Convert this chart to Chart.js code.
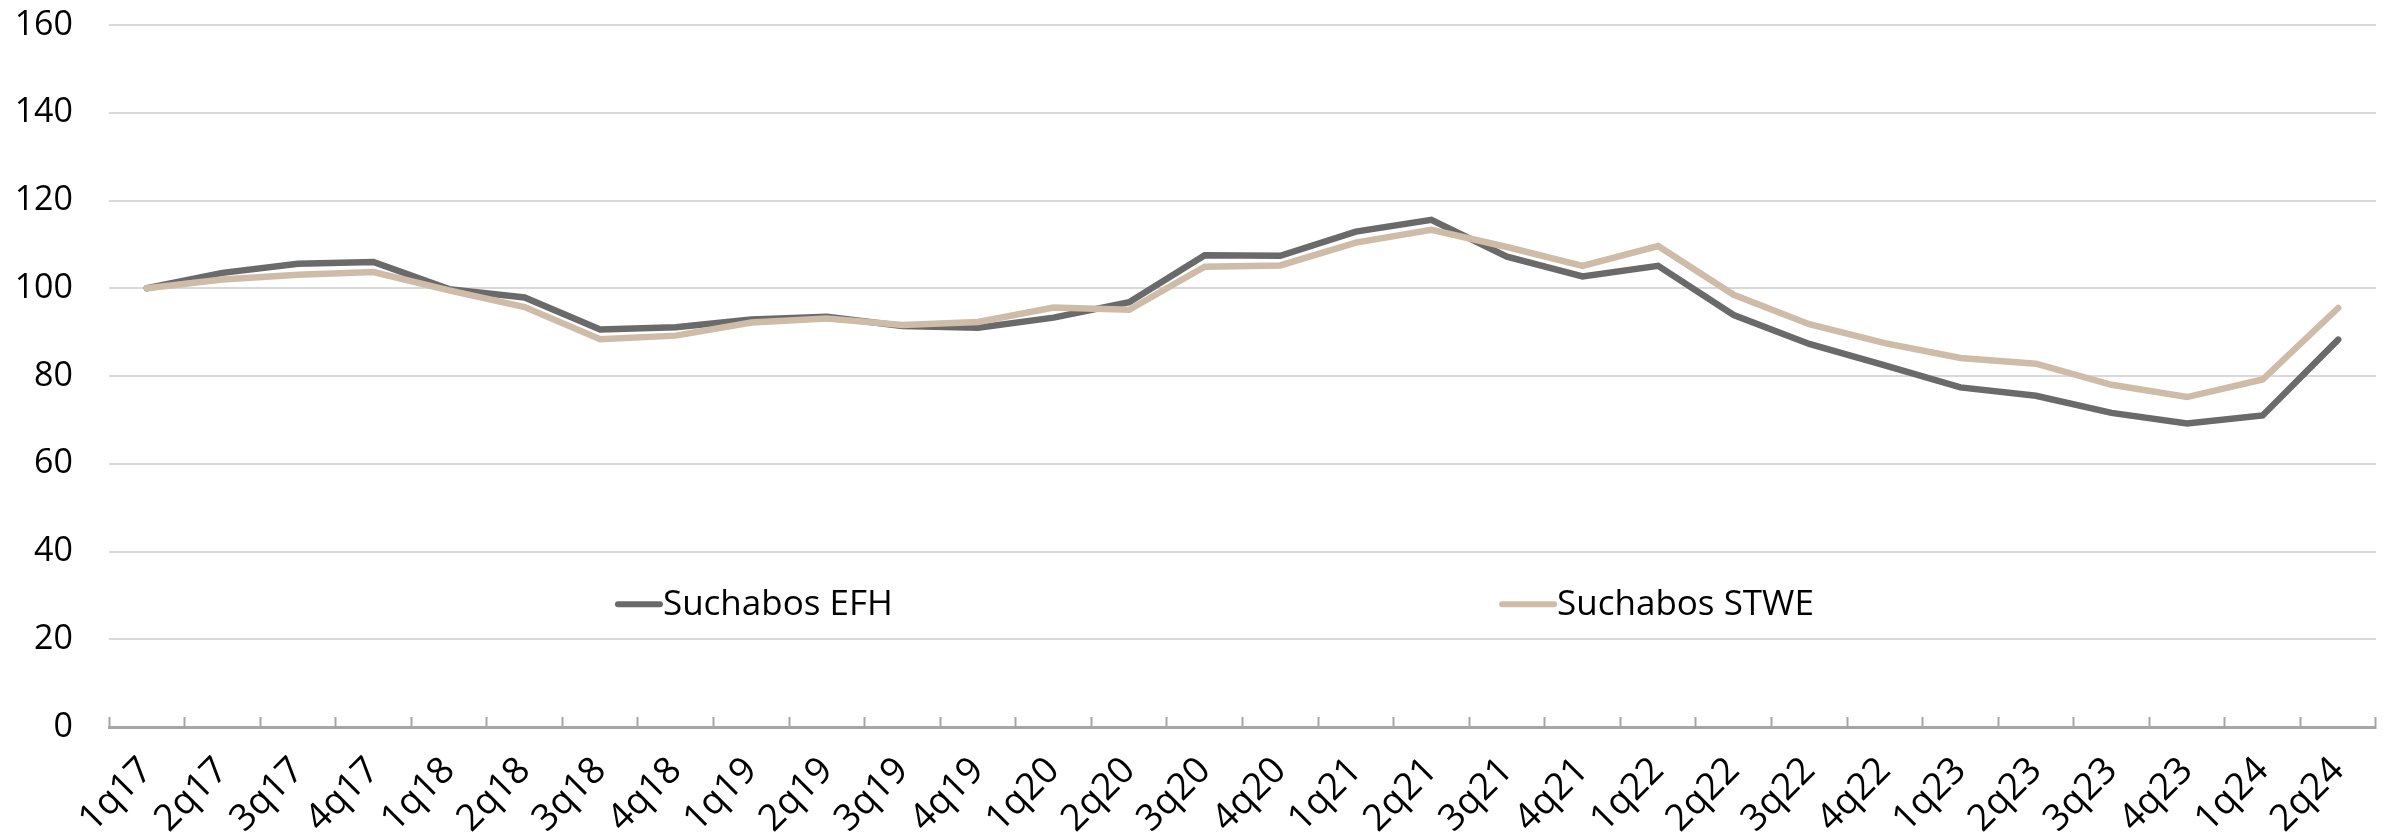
<!DOCTYPE html>
<html>
<head>
<meta charset="utf-8">
<script src="https://cdn.jsdelivr.net/npm/chart.js@4"></script>
<style>
    html, body { margin: 0; padding: 0; background: #fff; }
    #wrap { width: 2402px; height: 835px; position: relative; }
</style>
</head>
<body>
<div id="wrap"><canvas id="suchChart"></canvas></div>
<script>
const quarters = [
    '1q17', '2q17', '3q17', '4q17',
    '1q18', '2q18', '3q18', '4q18',
    '1q19', '2q19', '3q19', '4q19',
    '1q20', '2q20', '3q20', '4q20',
    '1q21', '2q21', '3q21', '4q21',
    '1q22', '2q22', '3q22', '4q22',
    '1q23', '2q23', '3q23', '4q23',
    '1q24', '2q24'
];

const suchabosEFH = [
    100, 103.5, 105.6, 106,
    99.8, 97.9, 90.6, 91.1,
    92.9, 93.5, 91.4, 91.0,
    93.3, 96.8, 107.5, 107.4,
    112.9, 115.6, 107.2, 102.7,
    105.1, 93.9, 87.3, 82.4,
    77.4, 75.5, 71.6, 69.2,
    71.0, 88.3
];

const suchabosSTWE = [
    100, 102, 103.1, 103.7,
    99.5, 95.7, 88.4, 89.2,
    92.2, 93.1, 91.6, 92.3,
    95.6, 95.1, 104.9, 105.2,
    110.4, 113.3, 109.4, 105.1,
    109.6, 98.5, 91.8, 87.5,
    84.1, 82.8, 78.0, 75.2,
    79.2, 95.5
];

const yTicks = { min: 0, max: 160, step: 20 };

const FONT = '"Open Sans", "Noto Sans", sans-serif';
const COL_EFH = '#6a6a6a';
const COL_STWE = '#cebca9';

// legend sits inside the plot, like the original
const insideLegend = {
    id: 'insideLegend',
    afterDraw(chart) {
        const { ctx, chartArea } = chart;
        const w = chartArea.right - chartArea.left;
        const y = chartArea.top + (chartArea.bottom - chartArea.top) * 0.825;
        const items = [
            { label: 'Suchabos EFH', color: COL_EFH, at: 0.2245, len: 42 },
            { label: 'Suchabos STWE', color: COL_STWE, at: 0.6145, len: 52 }
        ];
        ctx.save();
        ctx.font = '35px ' + FONT;
        ctx.textBaseline = 'middle';
        ctx.fillStyle = '#000';
        items.forEach(it => {
            const x0 = chartArea.left + w * it.at;
            ctx.strokeStyle = it.color;
            ctx.lineWidth = 6;
            ctx.lineCap = 'round';
            ctx.beginPath();
            ctx.moveTo(x0, y);
            ctx.lineTo(x0 + it.len, y);
            ctx.stroke();
            ctx.fillText(it.label, x0 + it.len + 3, y + 1);
        });
        ctx.restore();
    }
};

const ctx = document.getElementById('suchChart').getContext('2d');
new Chart(ctx, {
    type: 'line',
    data: {
        labels: quarters,
        datasets: [
            {
                label: 'Suchabos EFH',
                data: suchabosEFH,
                borderColor: COL_EFH,
                backgroundColor: COL_EFH,
                borderWidth: 6.5,
                borderCapStyle: 'round',
                pointRadius: 0,
                tension: 0,
                order: 1
            },
            {
                label: 'Suchabos STWE',
                data: suchabosSTWE,
                borderColor: COL_STWE,
                backgroundColor: COL_STWE,
                borderWidth: 6.5,
                borderCapStyle: 'round',
                pointRadius: 0,
                tension: 0,
                order: 0
            }
        ]
    },
    options: {
        responsive: true,
        maintainAspectRatio: false,
        animation: false,
        layout: {
            padding: { top: 25, right: 24, left: 0, bottom: 0 }
        },
        plugins: {
            legend: { display: false },
            tooltip: { enabled: false }
        },
        scales: {
            y: {
                min: yTicks.min,
                max: yTicks.max,
                afterFit: (scale) => {
                    scale.width = 109;
                    scale.paddingTop = 0;
                    scale.paddingBottom = 0;
                },
                ticks: {
                    stepSize: yTicks.step,
                    color: '#000',
                    padding: 36,
                    font: { family: FONT, size: 34 }
                },
                grid: {
                    color: '#d9d9d9',
                    lineWidth: 2,
                    drawTicks: false
                },
                border: { display: false }
            },
            x: {
                offset: true,
                afterFit: (scale) => {
                    scale.height = 108;
                    scale.paddingTop = 0;
                    scale.paddingBottom = 0;
                },
                ticks: {
                    color: '#000',
                    minRotation: 45,
                    maxRotation: 45,
                    autoSkip: false,
                    padding: 32,
                    font: { family: FONT, size: 37 }
                },
                grid: {
                    offset: true,
                    drawOnChartArea: false,
                    drawTicks: true,
                    tickLength: -10,
                    tickColor: '#a6a6a6',
                    tickWidth: 2
                },
                border: { color: '#a6a6a6', width: 3 }
            }
        }
    },
    plugins: [insideLegend]
});
</script>
</body>
</html>
